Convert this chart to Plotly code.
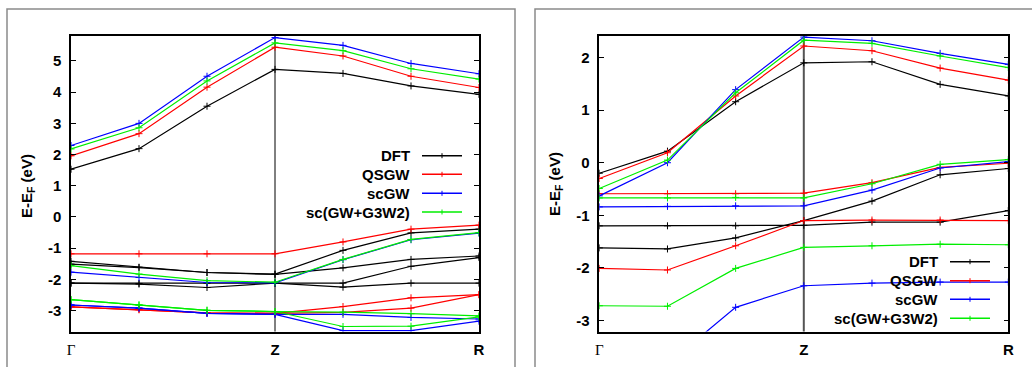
import plotly.graph_objects as go

W, H = 1032, 367

# ---------------- data ----------------
k_path = [0, 1, 2, 3, 4, 5, 6]
k_ticks = [0, 3, 6]
k_labels = ["<span style=\"font-family:'Liberation Serif',serif;font-weight:normal\">Γ</span>", "<b>Z</b>", "<b>R</b>"]
methods = ["DFT", "QSGW", "scGW", "sc(GW+G3W2)"]
colors = {"DFT": "#000000", "QSGW": "#ff0000", "scGW": "#0000ff", "sc(GW+G3W2)": "#00ee00"}

# left panel bands
dft_left = [
    [1.53, 2.19, 3.55, 4.73, 4.60, 4.20, 3.93],
    [-1.42, -1.61, -1.78, -1.83, -1.07, -0.51, -0.39],
    [-1.51, -1.62, -1.78, -1.84, -1.63, -1.36, -1.25],
    [-2.12, -2.13, -2.12, -2.12, -2.12, -1.58, -1.30],
    [-2.12, -2.15, -2.26, -2.12, -2.25, -2.12, -2.12],
]
qsgw_left = [
    [1.96, 2.67, 4.16, 5.44, 5.16, 4.51, 4.15],
    [-1.18, -1.18, -1.18, -1.18, -0.80, -0.39, -0.26],
    [-2.88, -2.97, -3.07, -3.09, -2.87, -2.59, -2.49],
    [-2.88, -2.97, -3.07, -3.09, -3.06, -2.92, -2.49],
]
scgw_left = [
    [2.29, 3.00, 4.51, 5.75, 5.50, 4.92, 4.59],
    [-1.77, -1.94, -2.10, -2.11, -1.37, -0.73, -0.52],
    [-2.82, -2.92, -3.09, -3.12, -3.12, -3.22, -3.27],
    [-2.82, -2.92, -3.09, -3.12, -3.64, -3.64, -3.34],
]
g3w2_left = [
    [2.18, 2.86, 4.36, 5.58, 5.33, 4.75, 4.42],
    [-1.56, -1.83, -2.04, -2.09, -1.36, -0.72, -0.50],
    [-2.65, -2.82, -2.99, -3.03, -3.05, -3.10, -3.17],
    [-2.65, -2.82, -2.99, -3.03, -3.51, -3.50, -3.20],
]

# right panel bands
dft_right = [
    [-0.20, 0.22, 1.16, 1.90, 1.92, 1.49, 1.27],
    [-1.20, -1.20, -1.20, -1.19, -1.13, -1.13, -0.91],
    [-1.62, -1.64, -1.43, -1.10, -0.73, -0.23, -0.11],
]
qsgw_right = [
    [-0.30, 0.19, 1.27, 2.22, 2.13, 1.80, 1.57],
    [-0.59, -0.59, -0.59, -0.58, -0.38, -0.09, -0.01],
    [-2.01, -2.04, -1.58, -1.10, -1.09, -1.09, -1.10],
]
scgw_right = [
    [-0.63, 0.00, 1.39, 2.39, 2.32, 2.08, 1.87],
    [-0.84, -0.83, -0.82, -0.82, -0.52, -0.10, 0.02],
    [-3.85, -3.83, -2.75, -2.34, -2.29, -2.27, -2.27],
]
g3w2_right = [
    [-0.49, 0.05, 1.33, 2.33, 2.27, 2.03, 1.81],
    [-0.67, -0.67, -0.66, -0.67, -0.40, -0.03, 0.06],
    [-2.72, -2.73, -2.01, -1.61, -1.58, -1.55, -1.56],
]

left_range = [-3.67, 5.80]
right_range = [-3.21, 2.41]
left_ticks = [-3, -2, -1, 0, 1, 2, 3, 4, 5]
right_ticks = [-3, -2, -1, 0, 1, 2]

panels = [
    ("x", "y", {"DFT": dft_left, "QSGW": qsgw_left, "scGW": scgw_left, "sc(GW+G3W2)": g3w2_left}),
    ("x2", "y2", {"DFT": dft_right, "QSGW": qsgw_right, "scGW": scgw_right, "sc(GW+G3W2)": g3w2_right}),
]

# ---------------- figure ----------------
def px(x):
    return x / W

def py(y):
    return 1 - y / H

fig = go.Figure()
for xa, ya, data in panels:
    for m in methods:
        for band in data[m]:
            fig.add_trace(go.Scatter(
                x=k_path, y=band, xaxis=xa, yaxis=ya, mode="lines+markers",
                line=dict(color=colors[m], width=1.2),
                marker=dict(symbol="cross-thin", size=5, line=dict(color=colors[m], width=1)),
                showlegend=False, hoverinfo="skip", cliponaxis=True,
            ))

font_main = dict(family="Liberation Sans, Arial, sans-serif", size=15, color="#000000")
ydom = [py(331.5), py(36)]

axis_common = dict(
    showgrid=False, zeroline=False, showline=True, linecolor="#000000", linewidth=1.5,
    mirror="ticks", ticks="inside", ticklen=5, tickwidth=1, tickcolor="#000000",
    tickfont=font_main, automargin=False,
)

fig.update_layout(
    width=W, height=H, margin=dict(l=0, r=0, t=0, b=0),
    paper_bgcolor="white", plot_bgcolor="white", showlegend=False,
    font=font_main,
    xaxis=dict(domain=[px(71), px(479)], range=[0, 6], tickvals=k_ticks, ticktext=k_labels,
               anchor="y", **{**axis_common, "ticks": "", "mirror": True}, ticklabelstandoff=4),
    yaxis=dict(domain=ydom, range=left_range, tickvals=left_ticks,
               ticktext=[f"<b>{v}</b>" for v in left_ticks], anchor="x",
               ticklabelstandoff=5, **axis_common),
    xaxis2=dict(domain=[px(599.3), px(1008.3)], range=[0, 6], tickvals=k_ticks, ticktext=k_labels,
                anchor="y2", **{**axis_common, "ticks": "", "mirror": True}, ticklabelstandoff=4),
    yaxis2=dict(domain=ydom, range=right_range, tickvals=right_ticks,
                ticktext=[f"<b>{v}</b>" for v in right_ticks], anchor="x2",
                ticklabelstandoff=5, **axis_common),
)

# vertical line at Z
fig.add_shape(type="line", xref="x", yref="y domain", x0=3, x1=3, y0=0, y1=1,
              line=dict(color="#000000", width=1), layer="below")
fig.add_shape(type="line", xref="x2", yref="y2 domain", x0=3, x1=3, y0=0, y1=1,
              line=dict(color="#555555", width=2), layer="below")

# outer frames
frame = dict(color="#8a8a8a", width=1.5)
fig.add_shape(type="rect", xref="paper", yref="paper", x0=px(7), x1=px(515), y0=-0.2, y1=py(9), line=frame)
fig.add_shape(type="rect", xref="paper", yref="paper", x0=px(535), x1=1.2, y0=-0.2, y1=py(9), line=frame)

# y titles
for xc, yc in [(27, 186), (555, 184)]:
    fig.add_annotation(xref="paper", yref="paper", x=px(xc), y=py(yc), text="<b>E-E<sub>F</sub> (eV)</b>",
                       textangle=-90, showarrow=False, font=font_main, xanchor="center", yanchor="middle")

# legends (gnuplot style: text left of sample)
legend_specs = [
    (412, 422, 462, [155.7, 174.3, 193.3, 212.0]),
    (940, 950, 990, [261.7, 280.7, 299.3, 318.3]),
]
for tx, lx0, lx1, rows in legend_specs:
    for m, ry in zip(methods, rows):
        fig.add_annotation(xref="paper", yref="paper", x=px(tx), y=py(ry), text=f"<b>{m}</b>",
                           showarrow=False, font=font_main, xanchor="right", yanchor="middle")
        fig.add_shape(type="line", xref="paper", yref="paper", x0=px(lx0), x1=px(lx1), y0=py(ry), y1=py(ry),
                      line=dict(color=colors[m], width=1.5))
        cx = (lx0 + lx1) / 2
        fig.add_shape(type="line", xref="paper", yref="paper", x0=px(cx), x1=px(cx), y0=py(ry - 2.5), y1=py(ry + 2.5),
                      line=dict(color=colors[m], width=1))

fig.write_html(
    "out.html",
    config={"displayModeBar": False},
    post_script="document.body.style.margin='0';document.body.style.overflow='hidden';",
)
